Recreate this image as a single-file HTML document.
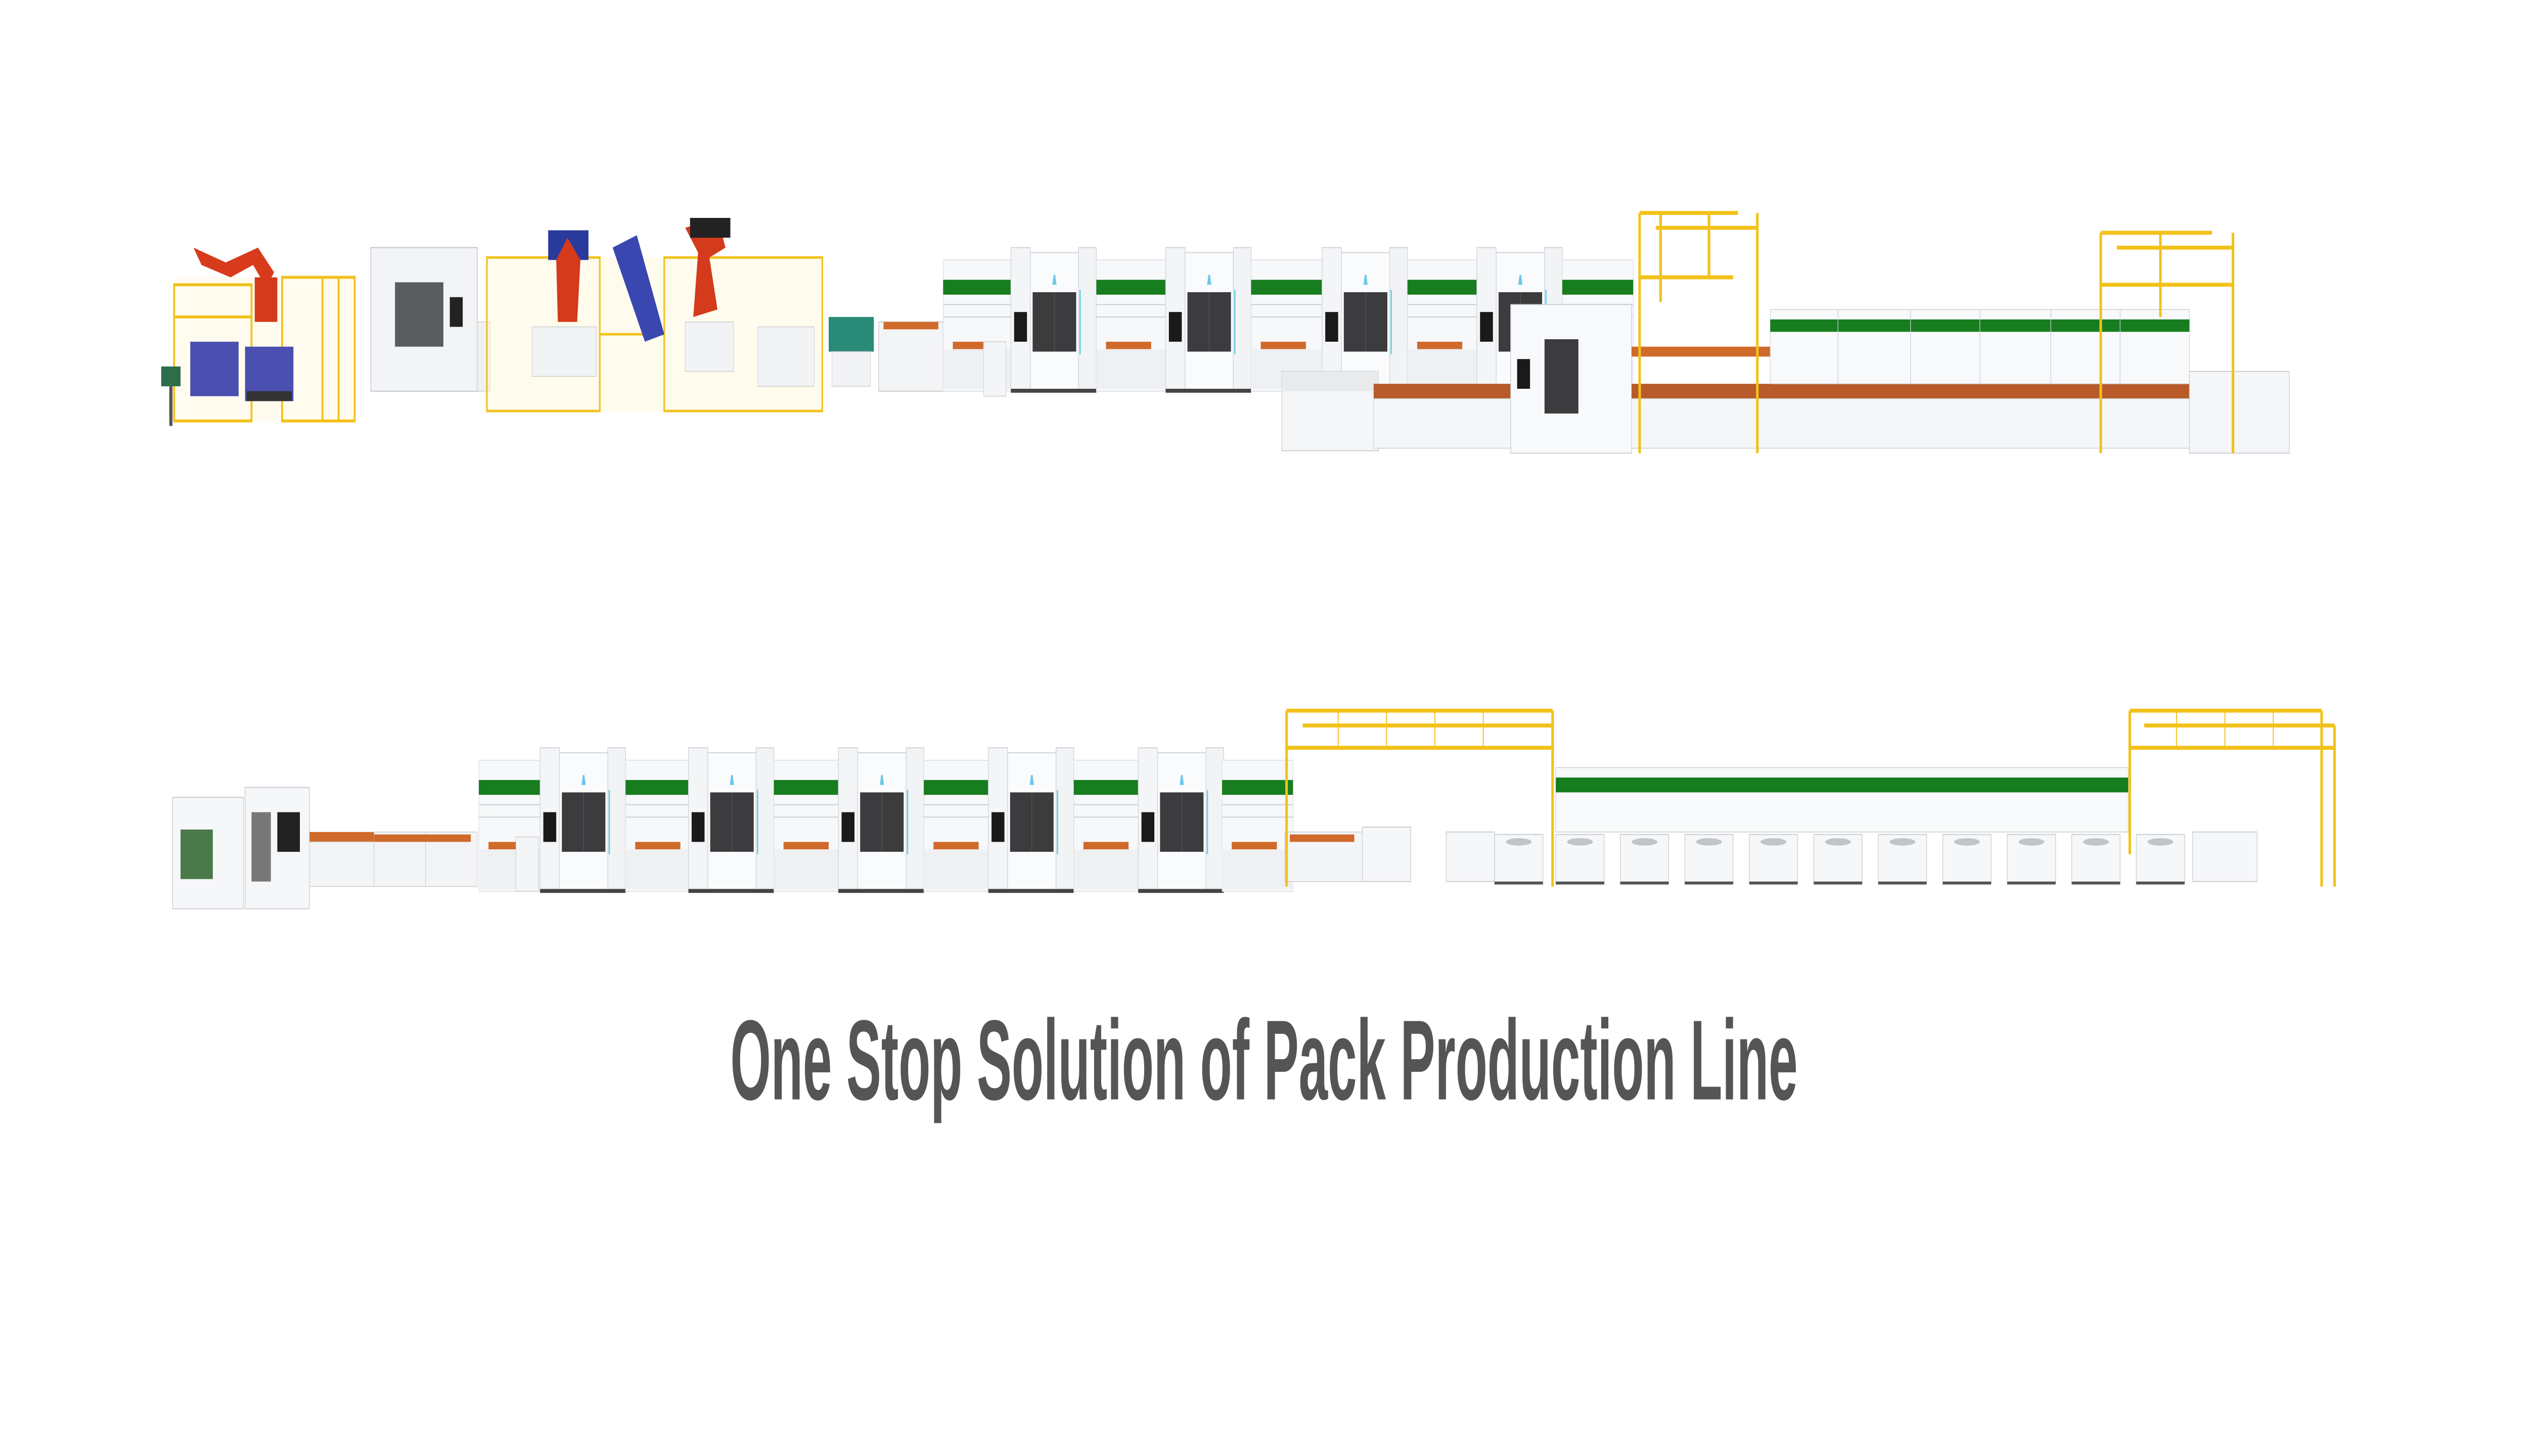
<!DOCTYPE html>
<html><head><meta charset="utf-8"><style>
html,body{margin:0;padding:0;background:#fff;width:100%;height:100%;overflow:hidden;}
svg{display:block;position:absolute;left:0;top:0;width:100vw;height:100vh;}
</style></head><body>
<svg viewBox="0 0 1568 588" preserveAspectRatio="none" xmlns="http://www.w3.org/2000/svg">
<defs>
<g id="tower">
  <rect x="0" y="0" width="12" height="58" fill="#f4f5f7" stroke="#cfd3d8" stroke-width="0.4"/>
  <rect x="12" y="2" width="30" height="56" fill="#fafbfc" stroke="#cfd3d8" stroke-width="0.4"/>
  <rect x="42" y="0" width="11" height="58" fill="#f2f3f5" stroke="#cfd3d8" stroke-width="0.4"/>
  <rect x="13.5" y="18" width="27" height="24" fill="#3c3c3e"/>
  <line x1="27" y1="18" x2="27" y2="42" stroke="#555" stroke-width="0.4"/>
  <rect x="2" y="26" width="8" height="12" fill="#1a1a1a"/>
  <rect x="42.5" y="17" width="0.8" height="26" fill="#5fd0e8"/>
  <path d="M26.5 11 L27.5 11 L28.3 15 L25.7 15 Z" fill="#6cc8e8"/>
  <rect x="0" y="57" width="53" height="1.6" fill="#444"/>
</g>
<g id="conv">
  <rect x="0" y="5" width="44" height="53" fill="#f7f8fa" stroke="#d8dbe0" stroke-width="0.3"/>
  <rect x="0" y="13" width="44" height="6" fill="#177d1f"/>
  <line x1="0" y1="23" x2="44" y2="23" stroke="#d0d4d8" stroke-width="0.5"/>
  <line x1="0" y1="28" x2="44" y2="28" stroke="#d0d4d8" stroke-width="0.5"/>
  <rect x="6" y="38" width="28" height="3" fill="#d06a2a"/>
  <rect x="0" y="41" width="44" height="16" fill="#eef0f2"/>
</g>
<g id="base">
  <rect x="0" y="0" width="30" height="20" fill="#f6f7f9" stroke="#c9cdd2" stroke-width="0.4"/>
  <ellipse cx="15" cy="3" rx="8" ry="1.5" fill="#bfc5c9"/>
  <rect x="0" y="19" width="30" height="1.2" fill="#555"/>
</g>
</defs>

<rect width="1568" height="588" fill="#fff"/>

<g>
  <rect x="108" y="112" width="112" height="58" fill="#fff9e0" opacity="0.5"/>
  <g stroke="#f2c21b" stroke-width="1.2" fill="none">
    <rect x="108" y="115" width="48" height="55"/>
    <line x1="108" y1="128" x2="156" y2="128"/>
    <rect x="175" y="112" width="45" height="58"/>
    <line x1="200" y1="112" x2="200" y2="170"/>
    <line x1="210" y1="112" x2="210" y2="170"/>
  </g>
  <rect x="118" y="138" width="30" height="22" fill="#4a4fb0"/>
  <rect x="152" y="140" width="30" height="22" fill="#4a4fb0"/>
  <rect x="153" y="158" width="28" height="4" fill="#333"/>
  <path d="M120 100 L140 106 L160 100 L170 110 L165 116 L157 107 L143 112 L125 107 Z" fill="#d83a1c"/>
  <rect x="158" y="112" width="14" height="18" fill="#d43a1c"/>
  <rect x="100" y="148" width="12" height="8" fill="#2d6d4a"/>
  <rect x="105" y="156" width="2" height="16" fill="#555"/>
</g>
<rect x="230" y="100" width="66" height="58" fill="#f3f4f6" stroke="#c9cdd2" stroke-width="0.5"/>
<rect x="245" y="114" width="30" height="26" fill="#5a5c60"/>
<rect x="279" y="120" width="8" height="12" fill="#222"/>
<rect x="296" y="130" width="8" height="28" fill="#eef0f2" stroke="#ccc" stroke-width="0.3"/>
<g>
  <rect x="302" y="104" width="208" height="62" fill="#fff7d6" opacity="0.45"/>
  <g stroke="#f2c21b" stroke-width="1" fill="none">
    <rect x="302" y="104" width="70" height="62"/>
    <rect x="412" y="104" width="98" height="62"/>
    <line x1="372" y1="135" x2="412" y2="135"/>
  </g>
  <rect x="330" y="132" width="40" height="20" fill="#f2f3f5" stroke="#ccc" stroke-width="0.3"/>
  <rect x="340" y="93" width="25" height="12" fill="#2a3a9c"/>
  <path d="M345 105 L352 96 L360 105 L358 130 L346 130 Z" fill="#d43a1c"/>
  <path d="M380 100 L395 95 L412 135 L400 138 Z" fill="#3a47b0"/>
  <path d="M425 92 L445 88 L450 100 L440 104 L445 125 L430 128 L433 102 Z" fill="#d43a1c"/>
  <rect x="428" y="88" width="25" height="8" fill="#222"/>
  <rect x="425" y="130" width="30" height="20" fill="#f2f3f5" stroke="#ccc" stroke-width="0.3"/>
  <rect x="470" y="132" width="35" height="24" fill="#f2f3f5" stroke="#ccc" stroke-width="0.3"/>
</g>
<rect x="514" y="128" width="28" height="14" fill="#2a8a78"/>
<rect x="516" y="142" width="24" height="14" fill="#f2f3f5" stroke="#ccc" stroke-width="0.3"/>
<rect x="545" y="130" width="40" height="28" fill="#f3f4f6" stroke="#ccc" stroke-width="0.4"/>
<rect x="548" y="130" width="34" height="3" fill="#d06a2a"/>
<rect x="585" y="138" width="25" height="18" fill="#f3f4f6" stroke="#ccc" stroke-width="0.3"/>

<use href="#conv" x="585" y="100"/>
<use href="#tower" x="627" y="100"/>
<use href="#conv" x="680" y="100"/>
<use href="#tower" x="723" y="100"/>
<use href="#conv" x="776" y="100"/>
<use href="#tower" x="820" y="100"/>
<use href="#conv" x="873" y="100"/>
<use href="#tower" x="916" y="100"/>
<use href="#conv" x="969" y="100"/>
<rect x="610" y="138" width="14" height="22" fill="#f4f5f7" stroke="#ccc" stroke-width="0.3"/>

<rect x="795" y="150" width="60" height="32" fill="#f5f6f8" stroke="#c9cdd2" stroke-width="0.4"/>
<rect x="795" y="150" width="60" height="8" fill="#e8eaec"/>
<rect x="852" y="155" width="90" height="6" fill="#b85a2a"/>
<rect x="852" y="161" width="90" height="20" fill="#f5f6f8" stroke="#ccc" stroke-width="0.3"/>
<rect x="937" y="123" width="75" height="60" fill="#f8f9fa" stroke="#c9cdd2" stroke-width="0.4"/>
<rect x="958" y="137" width="21" height="30" fill="#3c3c3e"/>
<rect x="941" y="145" width="8" height="12" fill="#1a1a1a"/>
<rect x="1012" y="155" width="350" height="6" fill="#b85a2a"/>
<rect x="1012" y="161" width="350" height="20" fill="#f5f6f8" stroke="#ccc" stroke-width="0.3"/>
<rect x="1012" y="140" width="86" height="4" fill="#d06a2a"/>
<rect x="1098" y="125" width="260" height="30" fill="#f8f9fa" stroke="#ccc" stroke-width="0.3"/>
<rect x="1098" y="129" width="260" height="5" fill="#177d1f"/>
<g stroke="#ccd" stroke-width="0.4">
  <line x1="1140" y1="125" x2="1140" y2="155"/><line x1="1185" y1="125" x2="1185" y2="155"/>
  <line x1="1228" y1="125" x2="1228" y2="155"/><line x1="1272" y1="125" x2="1272" y2="155"/>
  <line x1="1315" y1="125" x2="1315" y2="155"/>
</g>
<rect x="1358" y="150" width="62" height="33" fill="#f5f6f8" stroke="#c9cdd2" stroke-width="0.4"/>
<g stroke="#f2c21b" stroke-width="1.6" fill="none">
  <line x1="1017" y1="86" x2="1017" y2="183"/>
  <line x1="1090" y1="86" x2="1090" y2="183"/>
  <line x1="1017" y1="86" x2="1078" y2="86"/>
  <line x1="1027" y1="92" x2="1090" y2="92"/>
  <line x1="1030" y1="86" x2="1030" y2="122"/>
  <line x1="1060" y1="86" x2="1060" y2="112"/>
  <line x1="1017" y1="112" x2="1075" y2="112"/>
  <line x1="1303" y1="94" x2="1303" y2="183"/>
  <line x1="1385" y1="94" x2="1385" y2="183"/>
  <line x1="1303" y1="94" x2="1372" y2="94"/>
  <line x1="1313" y1="100" x2="1385" y2="100"/>
  <line x1="1303" y1="115" x2="1385" y2="115"/>
  <line x1="1340" y1="94" x2="1340" y2="128"/>
</g>

<rect x="107" y="322" width="44" height="45" fill="#f6f7f9" stroke="#c9cdd2" stroke-width="0.4"/>
<rect x="112" y="335" width="20" height="20" fill="#4a7a4a"/>
<rect x="152" y="318" width="40" height="49" fill="#f6f7f9" stroke="#c9cdd2" stroke-width="0.4"/>
<rect x="156" y="328" width="12" height="28" fill="#777"/>
<rect x="172" y="328" width="14" height="16" fill="#222"/>
<rect x="192" y="336" width="40" height="4" fill="#d06a2a"/>
<rect x="192" y="340" width="40" height="18" fill="#f3f4f6" stroke="#ccc" stroke-width="0.3"/>
<rect x="232" y="336" width="32" height="22" fill="#f3f4f6" stroke="#ccc" stroke-width="0.3"/>
<rect x="264" y="336" width="32" height="22" fill="#f3f4f6" stroke="#ccc" stroke-width="0.3"/>
<rect x="232" y="337" width="60" height="3" fill="#d06a2a"/>
<use href="#conv" x="297" y="302"/>
<rect x="320" y="338" width="14" height="22" fill="#f4f5f7" stroke="#ccc" stroke-width="0.3"/>
<use href="#tower" x="335" y="302"/>
<use href="#conv" x="388" y="302"/>
<use href="#tower" x="427" y="302"/>
<use href="#conv" x="480" y="302"/>
<use href="#tower" x="520" y="302"/>
<use href="#conv" x="573" y="302"/>
<use href="#tower" x="613" y="302"/>
<use href="#conv" x="666" y="302"/>
<use href="#tower" x="706" y="302"/>
<use href="#conv" x="758" y="302"/>
<rect x="797" y="336" width="50" height="20" fill="#f4f5f7" stroke="#ccc" stroke-width="0.3"/>
<rect x="800" y="337" width="40" height="3" fill="#d06a2a"/>
<rect x="845" y="334" width="30" height="22" fill="#f6f7f9" stroke="#c9cdd2" stroke-width="0.4"/>
<rect x="897" y="336" width="30" height="20" fill="#f6f7f9" stroke="#c9cdd2" stroke-width="0.4"/>
<rect x="965" y="310" width="355" height="26" fill="#f8f9fa" stroke="#ccc" stroke-width="0.3"/>
<rect x="965" y="314" width="355" height="6" fill="#177d1f"/>
<use href="#base" x="927" y="337"/>
<use href="#base" x="965" y="337"/>
<use href="#base" x="1005" y="337"/>
<use href="#base" x="1045" y="337"/>
<use href="#base" x="1085" y="337"/>
<use href="#base" x="1125" y="337"/>
<use href="#base" x="1165" y="337"/>
<use href="#base" x="1205" y="337"/>
<use href="#base" x="1245" y="337"/>
<use href="#base" x="1285" y="337"/>
<use href="#base" x="1325" y="337"/>
<rect x="1360" y="336" width="40" height="20" fill="#f6f7f9" stroke="#c9cdd2" stroke-width="0.4"/>
<g stroke="#f2c21b" stroke-width="1.6" fill="none">
  <line x1="798" y1="287" x2="798" y2="358"/>
  <line x1="963" y1="287" x2="963" y2="358"/>
  <line x1="798" y1="287" x2="963" y2="287"/>
  <line x1="808" y1="293" x2="963" y2="293"/>
  <line x1="798" y1="302" x2="963" y2="302"/>
  <line x1="1321" y1="287" x2="1321" y2="345"/>
  <line x1="1440" y1="287" x2="1440" y2="358"/>
  <line x1="1448" y1="293" x2="1448" y2="358"/>
  <line x1="1321" y1="287" x2="1440" y2="287"/>
  <line x1="1330" y1="293" x2="1448" y2="293"/>
  <line x1="1321" y1="302" x2="1448" y2="302"/>
</g>
<g stroke="#f2c21b" stroke-width="0.6">
  <line x1="830" y1="287" x2="830" y2="302"/><line x1="860" y1="287" x2="860" y2="302"/>
  <line x1="890" y1="287" x2="890" y2="302"/><line x1="920" y1="287" x2="920" y2="302"/>
  <line x1="1350" y1="287" x2="1350" y2="302"/><line x1="1380" y1="287" x2="1380" y2="302"/>
  <line x1="1410" y1="287" x2="1410" y2="302"/>
</g>

<text x="453" y="444" font-family="'Liberation Sans Narrow','Liberation Sans',sans-serif" font-weight="bold" font-size="46" fill="#555" textLength="662" lengthAdjust="spacingAndGlyphs">One Stop Solution of Pack Production Line</text>
</svg>
</body></html>
